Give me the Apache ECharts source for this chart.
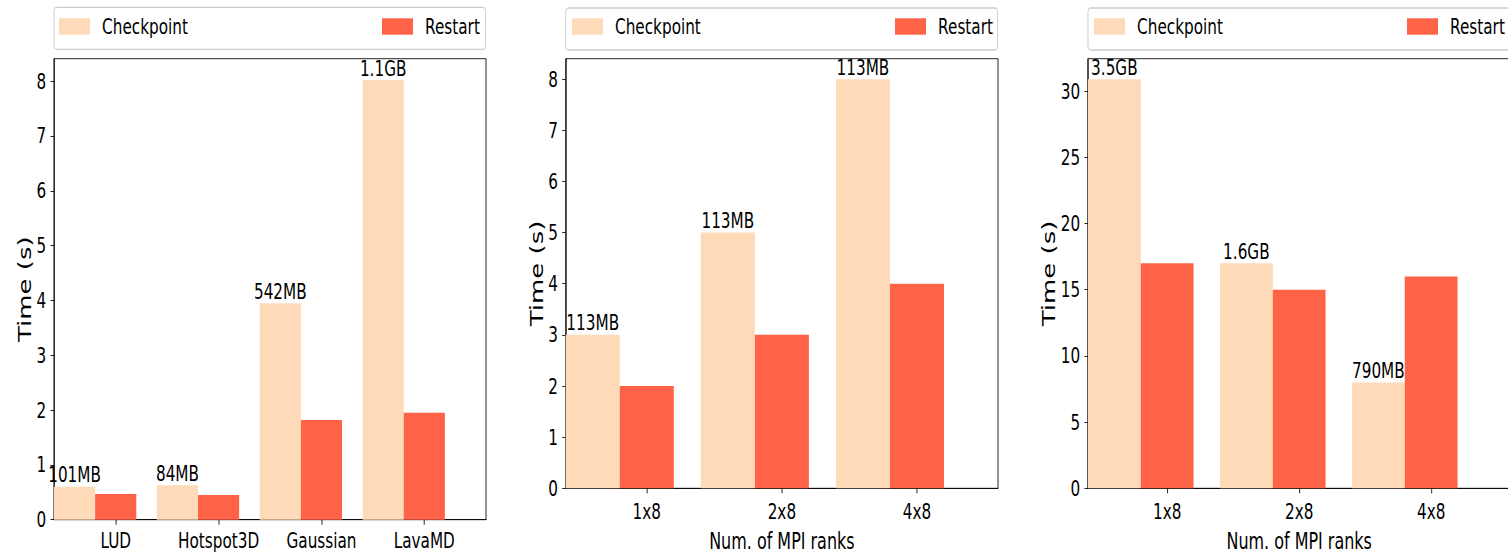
<!DOCTYPE html>
<html>
<head>
<meta charset="utf-8">
<script src="https://cdn.jsdelivr.net/npm/echarts@6/dist/echarts.min.js"></script>
<style>
  html, body { margin: 0; padding: 0; background: #fff; overflow: hidden; }
  #wrap { width: 1508px; height: 554px; overflow: hidden; position: relative; }
  #chart { width: 2124px; height: 554px; transform-origin: 0 0; transform: scaleX(0.709981); }
</style>
</head>
<body>
<div id="wrap"><div id="chart"></div></div>
<script>
// ---------------- data ----------------
const categories1 = ['LUD', 'Hotspot3D', 'Gaussian', 'LavaMD'];
const checkpoint1 = [0.60, 0.63, 3.95, 8.02];
const restart1    = [0.47, 0.45, 1.82, 1.95];
const sizes1      = ['101MB', '84MB', '542MB', '1.1GB'];

const categories2 = ['1x8', '2x8', '4x8'];
const checkpoint2 = [3, 5, 8];
const restart2    = [2, 3, 4];
const sizes2      = ['113MB', '113MB', '113MB'];

const categories3 = ['1x8', '2x8', '4x8'];
const checkpoint3 = [30.9, 17, 8];
const restart3    = [17, 15, 16];
const sizes3      = ['3.5GB', '1.6GB', '790MB'];

const yTicks1 = [0, 1, 2, 3, 4, 5, 6, 7, 8];
const yTicks2 = [0, 1, 2, 3, 4, 5, 6, 7, 8];
const yTicks3 = [0, 5, 10, 15, 20, 25, 30];

// ---------------- style ----------------
const FONT = 'DejaVu Sans';
const C_CK = '#FFDAB9';   // peachpuff
const C_RS = '#FF6347';   // tomato
const BW = 0.4;           // bar width in category units
const FS = 21.5;

const panels = [
  { cats: categories1, ck: checkpoint1, rs: restart1, sizes: sizes1, ticks: yTicks1, ymax: 8.41,
    grid: { left: 76.06, top: 58.7, width: 608.5, height: 461 }, xname: '', ynameGap: 29, xMargin: 10,
    legCk: 83.1, legRs: 538.0, box: { x: 76.06, y: 7.3, w: 608.0, h: 42 } },
  { cats: categories2, ck: checkpoint2, rs: restart2, sizes: sizes2, ticks: yTicks2, ymax: 8.40,
    grid: { left: 796.8, top: 58.7, width: 608.9, height: 429.6 }, xname: 'Num. of MPI ranks', ynameGap: 28, xMargin: 12,
    legCk: 805.6, legRs: 1260.6, box: { x: 796.8, y: 8, w: 608.4, h: 42 } },
  { cats: categories3, ck: checkpoint3, rs: restart3, sizes: sizes3, ticks: yTicks3, ymax: 32.45,
    grid: { left: 1532.4, top: 58.7, width: 594.9, height: 429.6 }, xname: 'Num. of MPI ranks', ynameGap: 42, xMargin: 12,
    legCk: 1540.9, legRs: 1981.7, box: { x: 1532.4, y: 8, w: 594.9, h: 42 } }
];

function makeRender(color, labels) {
  return function (params, api) {
    const x = api.value(0), y = api.value(1);
    const tl = api.coord([x - BW / 2, y]);
    const br = api.coord([x + BW / 2, 0]);
    const el = {
      type: 'rect',
      shape: { x: tl[0], y: tl[1], width: br[0] - tl[0], height: br[1] - tl[1] },
      style: { fill: color }
    };
    if (labels) {
      el.textContent = {
        style: { text: labels[params.dataIndex], fontSize: FS, fontFamily: FONT, fill: '#000' }
      };
      el.textConfig = { position: 'top', distance: 1 };
    }
    return el;
  };
}

const option = {
  animation: false,
  backgroundColor: '#fff',
  textStyle: { fontFamily: FONT },
  grid: [], xAxis: [], yAxis: [], series: [], legend: [], graphic: []
};

panels.forEach((p, k) => {
  const n = p.cats.length;
  option.grid.push(Object.assign({
    show: true, borderColor: '#000', borderWidth: 1, containLabel: false, outerBoundsMode: 'none'
  }, p.grid));
  const idx = Array.from({ length: n }, (_, i) => i);
  option.xAxis.push({
    type: 'value', gridIndex: k, min: -0.6, max: n - 0.4,
    splitLine: { show: false },
    axisLine: { show: true, onZero: false, lineStyle: { color: '#000', width: 1 } },
    axisTick: { show: true, length: 5, lineStyle: { color: '#000', width: 1 }, customValues: idx },
    axisLabel: {
      customValues: idx, margin: p.xMargin, color: '#000', fontSize: FS, fontFamily: FONT,
      formatter: (v) => p.cats[Math.round(v)]
    },
    name: p.xname, nameLocation: 'middle', nameGap: 42,
    nameTextStyle: { fontSize: 22.5, fontFamily: FONT, color: '#000' }
  });
  option.yAxis.push({
    type: 'value', gridIndex: k, min: 0, max: p.ymax,
    splitLine: { show: false },
    axisLine: { show: true, onZero: false, lineStyle: { color: '#000', width: 1 } },
    axisTick: { show: true, length: 5, lineStyle: { color: '#000', width: 1 }, customValues: p.ticks },
    axisLabel: { customValues: p.ticks, margin: 11, color: '#000', fontSize: FS, fontFamily: FONT },
    name: 'Time (s)', nameLocation: 'middle', nameGap: p.ynameGap,
    nameTextStyle: { fontSize: 26, fontFamily: FONT, color: '#000', lineHeight: 26 }
  });
  option.series.push({
    type: 'custom', name: 'Checkpoint', xAxisIndex: k, yAxisIndex: k,
    itemStyle: { color: C_CK },
    data: p.ck.map((v, i) => [i - BW, v]),
    renderItem: makeRender(C_CK, p.sizes)
  });
  option.series.push({
    type: 'custom', name: 'Restart', xAxisIndex: k, yAxisIndex: k,
    itemStyle: { color: C_RS },
    data: p.rs.map((v, i) => [i, v]),
    renderItem: makeRender(C_RS, null)
  });
  const legBase = {
    top: 14.5, padding: 0, itemWidth: 43.7, itemHeight: 16.4, icon: 'rect', selectedMode: false,
    textStyle: { fontSize: FS, fontFamily: FONT, color: '#000', lineHeight: 24, padding: [0, 0, 0, 12] }
  };
  option.legend.push(Object.assign({}, legBase, { data: ['Checkpoint'], left: p.legCk }));
  option.legend.push(Object.assign({}, legBase, { data: ['Restart'], left: p.legRs }));
  option.graphic.push({
    type: 'rect', z: -1, silent: true,
    shape: { x: p.box.x, y: p.box.y, width: p.box.w, height: p.box.h, r: 4 },
    style: { fill: '#fff', stroke: '#cccccc', lineWidth: 1.3 }
  });
});

const chart = echarts.init(document.getElementById('chart'), null, { renderer: 'svg' });
chart.setOption(option);
</script>
</body>
</html>
